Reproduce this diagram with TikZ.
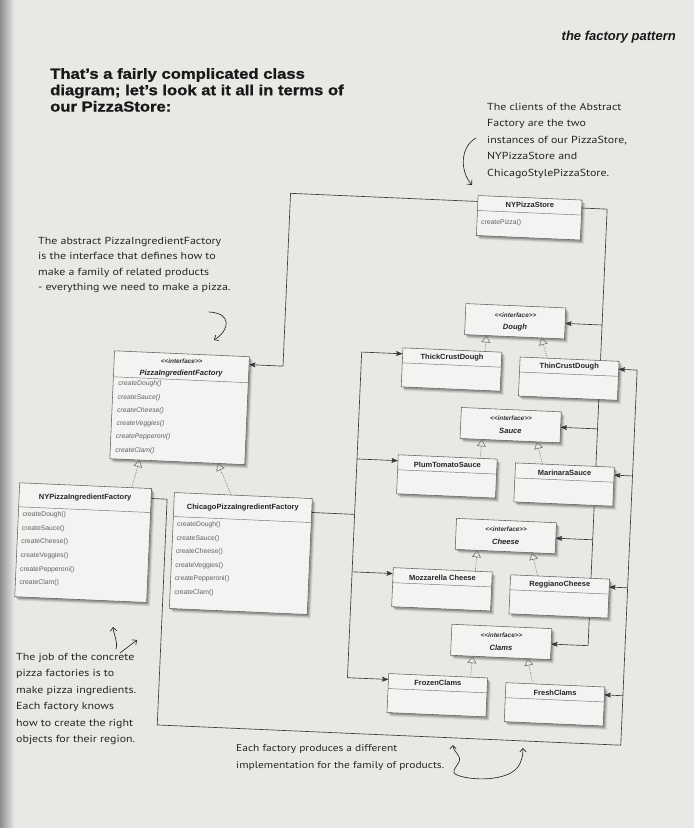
\documentclass[tikz,border=0pt]{standalone}
\usepackage{fontspec}
\setmainfont{Liberation Sans}
\newfontfamily\titlefont[FakeStretch=1.14,FakeBold=1.2]{Liberation Sans}
\newfontfamily\handfont[FakeStretch=1.17]{PT Sans}
\usetikzlibrary{arrows.meta,calc,shadows}

\pgfdeclarelayer{bg}
\pgfdeclarelayer{wires}
\pgfsetlayers{bg,wires,main}

\definecolor{pagebg}{RGB}{232,232,229}
\definecolor{boxbg}{RGB}{243,243,241}
\definecolor{ink}{RGB}{38,38,38}
\definecolor{wirecol}{RGB}{60,60,60}

\tikzset{
  classbox/.style={rectangle, draw=black!62, fill=boxbg, line width=0.55pt,
    inner sep=0pt, outer sep=0pt,
    drop shadow={shadow xshift=3.6pt, shadow yshift=-4pt, fill=black, opacity=0.07},
    drop shadow={shadow xshift=2.6pt, shadow yshift=-3pt, fill=black, opacity=0.12},
    drop shadow={shadow xshift=1.5pt, shadow yshift=-1.8pt, fill=black, opacity=0.2}},
  divline/.style={draw=black!55, line width=0.45pt},
  boxtext/.style={inner sep=0pt, transform shape=false},
  cname/.style={boxtext, font=\bfseries\fontsize{7.5}{9}\selectfont, text=black!85},
  stereo/.style={boxtext, font=\bfseries\itshape\fontsize{6.4}{8}\selectfont, text=black!80},
  iname/.style={boxtext, font=\bfseries\itshape\fontsize{7.6}{9}\selectfont, text=black!85},
  meth/.style={boxtext, font=\fontsize{6.8}{8}\selectfont, text=black!62, anchor=west},
  imeth/.style={boxtext, font=\itshape\fontsize{6.8}{8}\selectfont, text=black!62, anchor=west},
  wire/.style={draw=wirecol, line width=0.65pt},
  assoc/.style={wire, -{Stealth[length=6.5pt,width=5pt,inset=1.2pt]}},
  realize/.style={draw=black!55, line width=0.55pt, dash pattern=on 1pt off 1.2pt,
    -{Triangle[open,length=7pt,width=9pt,line width=0.6pt]}},
  note/.style={font=\handfont\fontsize{10.2}{16.5}\selectfont, text=ink, align=left,
    anchor=north west, inner sep=0pt},
  scribble/.style={draw=ink, line width=0.65pt, line cap=round,
    -{Straight Barb[length=3.5pt,width=6.5pt]}},
  scribbletwo/.style={draw=ink, line width=0.65pt, line cap=round,
    {Straight Barb[length=3.5pt,width=6.5pt]}-{Straight Barb[length=3.5pt,width=6.5pt]}},
}

% interface box: name, centre x, centre y, label
\newcommand\ifacebox[4]{%
  \node[classbox, minimum width=100pt, minimum height=31pt] (#1) at (#2,#3) {};
  \node[stereo] (#1-st) at (#2,#3-6.5) {{<}{<}interface{>}{>}};
  \node[iname] (#1-nm) at (#2,#3+6) {#4};
}
% concrete product box: name, centre x, centre y, label
\newcommand\prodbox[4]{%
  \node[classbox, minimum width=99pt, minimum height=39pt] (#1) at (#2,#3) {};
  \draw[divline] (#2-49.5,#3-4.5) -- (#2+49.5,#3-4.5);
  \node[cname] (#1-nm) at (#2,#3-12) {#4};
}

\begin{document}
\begin{tikzpicture}[x=1pt,y=-1pt]
\useasboundingbox (0,0) rectangle (694,828);

\begin{pgfonlayer}{bg}
  \fill[pagebg] (0,0) rectangle (694,828);
  \shade[left color=black!45, right color=pagebg] (0,0) rectangle (14,828);
\end{pgfonlayer}

% ---------- the class diagram ----------
\begin{scope}[rotate around={-2.5:(347,414)}, transform shape]

  % client
  \node[classbox, minimum width=104pt, minimum height=40pt] (nystore) at (520.5,210) {};
  \draw[divline] (468.5,205) -- (572.5,205);
  \node[cname] (nystore-nm) at (520.5,197.5) {NYPizzaStore};
  \node[meth] (nystore-m) at (472.5,217.5) {createPizza()};

  % abstract factory
  \node[classbox, minimum width=135pt, minimum height=108pt] (pif) at (179.5,415) {};
  \draw[divline] (112,387) -- (247,387);
  \node[stereo] (pif-st) at (179.5,368) {{<}{<}interface{>}{>}};
  \node[iname] (pif-nm) at (179.5,381) {PizzaIngredientFactory};
  \foreach \m [count=\i from 0] in {Dough,Sauce,Cheese,Veggies,Pepperoni,Clam}
    \node[imeth] (pif-m\i) at (117,394+13.3*\i) {create\m()};

  % concrete factories
  \node[classbox, minimum width=132pt, minimum height=114pt] (nypif) at (89,554) {};
  \draw[divline] (23,521) -- (155,521);
  \node[cname] (nypif-nm) at (89,509) {NYPizzaIngredientFactory};
  \foreach \m [count=\i from 0] in {Dough,Sauce,Cheese,Veggies,Pepperoni,Clam}
    \node[meth] (nypif-m\i) at (27,529+13.6*\i) {create\m()};

  \node[classbox, minimum width=138pt, minimum height=116pt] (chpif) at (247,558) {};
  \draw[divline] (178,524) -- (316,524);
  \node[cname] (chpif-nm) at (247,512) {ChicagoPizzaIngredientFactory};
  \foreach \m [count=\i from 0] in {Dough,Sauce,Cheese,Veggies,Pepperoni,Clam}
    \node[meth] (chpif-m\i) at (182,532+13.6*\i) {create\m()};

  % product interfaces
  \ifacebox{dough}{511}{314}{Dough}
  \ifacebox{sauce}{511}{418}{Sauce}
  \ifacebox{cheese}{511}{529}{Cheese}
  \ifacebox{clams}{511}{635}{Clams}

  % concrete products
  \prodbox{thick}{449.5}{365}{ThickCrustDough}
  \prodbox{thin}{567}{369}{ThinCrustDough}
  \prodbox{plum}{449.5}{472}{PlumTomatoSauce}
  \prodbox{marinara}{567}{475}{MarinaraSauce}
  \prodbox{mozz}{449.5}{585}{Mozzarella Cheese}
  \prodbox{reggiano}{567}{587}{ReggianoCheese}
  \prodbox{frozen}{449.5}{691}{FrozenClams}
  \prodbox{fresh}{567}{695}{FreshClams}

  % attachment points on the boxes
  \coordinate (a0) at ($(nystore.north west)!6pt!(nystore.south west)$);
  \coordinate (a3) at ($(pif.north east)!8pt!(pif.south east)$);
  \coordinate (b0) at ($(nystore.north east)!8pt!(nystore.south east)$);
  \coordinate (c0) at ($(chpif.north east)!14pt!(chpif.south east)$);
  \coordinate (d0) at ($(nypif.north east)!10pt!(nypif.south east)$);
  \coordinate (thick-in) at ($(thick.north west)!6pt!(thick.south west)$);
  \coordinate (plum-in) at ($(plum.north west)!6pt!(plum.south west)$);
  \coordinate (mozz-in) at ($(mozz.north west)!6pt!(mozz.south west)$);
  \coordinate (frozen-in) at ($(frozen.north west)!6pt!(frozen.south west)$);
  \coordinate (thin-in) at ($(thin.north east)!8pt!(thin.south east)$);
  \coordinate (marinara-in) at ($(marinara.north east)!8pt!(marinara.south east)$);
  \coordinate (reggiano-in) at ($(reggiano.north east)!8pt!(reggiano.south east)$);
  \coordinate (fresh-in) at ($(fresh.north east)!8pt!(fresh.south east)$);

  % bends of the connectors
  \coordinate (a1) at (281,196);
  \coordinate (a2) at (281,369);
  \coordinate (b1) at (598,198);
  \coordinate (bd) at (598,314);
  \coordinate (bs) at (598,418);
  \coordinate (bc) at (598,529);
  \coordinate (bk) at (598,635);
  \coordinate (c1) at (359,514);
  \coordinate (ct) at (359,351.5);
  \coordinate (cp) at (359,458.5);
  \coordinate (cm) at (359,571.5);
  \coordinate (cf) at (359,677.5);
  \coordinate (d1) at (171,507);
  \coordinate (d2) at (171,733);
  \coordinate (d3) at (635,733);
  \coordinate (dt) at (635,357.5);
  \coordinate (dm) at (635,463.5);
  \coordinate (dr) at (635,575.5);
  \coordinate (df) at (635,683.5);

  \begin{pgfonlayer}{wires}
    % the store uses the abstract factory
    \draw[assoc] (a0) -- (a1) -- (a2) -- (a3);
    % the store uses the product interfaces
    \draw[wire] (b0) -- (b1) -- (bk);
    \draw[assoc] (bd) -- (dough.east);
    \draw[assoc] (bs) -- (sauce.east);
    \draw[assoc] (bc) -- (cheese.east);
    \draw[assoc] (bk) -- (clams.east);
    % Chicago factory creates its products
    \draw[wire] (c0) -- (c1);
    \draw[wire] (ct) -- (cf);
    \draw[assoc] (ct) -- (thick-in);
    \draw[assoc] (cp) -- (plum-in);
    \draw[assoc] (cm) -- (mozz-in);
    \draw[assoc] (cf) -- (frozen-in);
    % NY factory creates its products
    \draw[wire] (d0) -- (d1) -- (d2) -- (d3) -- (dt);
    \draw[assoc] (dt) -- (thin-in);
    \draw[assoc] (dm) -- (marinara-in);
    \draw[assoc] (dr) -- (reggiano-in);
    \draw[assoc] (df) -- (fresh-in);
  \end{pgfonlayer}

  % implementations
  \draw[realize] ($(nypif.north west)!112pt!(nypif.north east)$) -- ($(pif.south west)!30pt!(pif.south east)$);
  \draw[realize] ($(chpif.north west)!57pt!(chpif.north east)$) -- ($(pif.south west)!108pt!(pif.south east)$);
  \foreach \l/\r/\f in {thick/thin/dough, plum/marinara/sauce, mozz/reggiano/cheese, frozen/fresh/clams}{
    \draw[realize] ($(\l.north west)!82pt!(\l.north east)$) -- ($(\f.south west)!22pt!(\f.south east)$);
    \draw[realize] ($(\r.north west)!27pt!(\r.north east)$) -- ($(\f.south west)!77pt!(\f.south east)$);
  }
\end{scope}

% ---------- headings ----------
\node[anchor=north west, inner sep=0pt, align=left, text=black!90,
      font=\titlefont\bfseries\fontsize{14.6}{16.4}\selectfont] (title) at (50,68)
  {That’s a fairly complicated class\\diagram; let’s look at it all in terms of\\our PizzaStore:};
\node[anchor=base east, inner sep=0pt, text=black!90,
      font=\bfseries\itshape\fontsize{13}{15}\selectfont] (runhead) at (676,40) {the factory pattern};

% ---------- handwritten notes ----------
\node[note] (clientnote) at (487,103)
  {The clients of the Abstract\\Factory are the two\\instances of our PizzaStore,\\NYPizzaStore and\\ChicagoStylePizzaStore.};
\node[note, font=\handfont\fontsize{10.2}{15.5}\selectfont] (abstractnote) at (38,237)
  {The abstract PizzaIngredientFactory\\is the interface that defines how to\\make a family of related products\\- everything we need to make a pizza.};
\node[note] (concretenote) at (16,653)
  {The job of the concrete\\pizza factories is to\\make pizza ingredients.\\Each factory knows\\how to create the right\\objects for their region.};
\node[note, font=\handfont\fontsize{9.8}{17}\selectfont] (familynote) at (236,744)
  {Each factory produces a different\\implementation for the family of products.};

% ---------- pointers drawn by hand ----------
\coordinate (p1s) at (476,138);
\coordinate (p1e) at (472,185);
\draw[scribble] (p1s) .. controls (461,146) and (459,170) .. (p1e);
\coordinate (p2s) at (209,312);
\coordinate (p2e) at (214,340);
\draw[scribble] (p2s) .. controls (232,313) and (230,330) .. (p2e);
\coordinate (p3s) at (116,649);
\coordinate (p3e) at (113,627);
\draw[scribble] (p3s) .. controls (118,641) and (114,636) .. (p3e);
\coordinate (p4s) at (120,653);
\coordinate (p4e) at (137,640);
\draw[scribble] (p4s) -- (p4e);
\coordinate (p5s) at (453,745);
\coordinate (p5e) at (523,748);
\draw[scribbletwo] (p5s) .. controls (453,752) and (462,755) .. (459,762)
  .. controls (456,768) and (450,772) .. (457,775)
  .. controls (472,781) and (506,781) .. (517,768)
  .. controls (522,762) and (523,755) .. (p5e);
\end{tikzpicture}
\end{document}
